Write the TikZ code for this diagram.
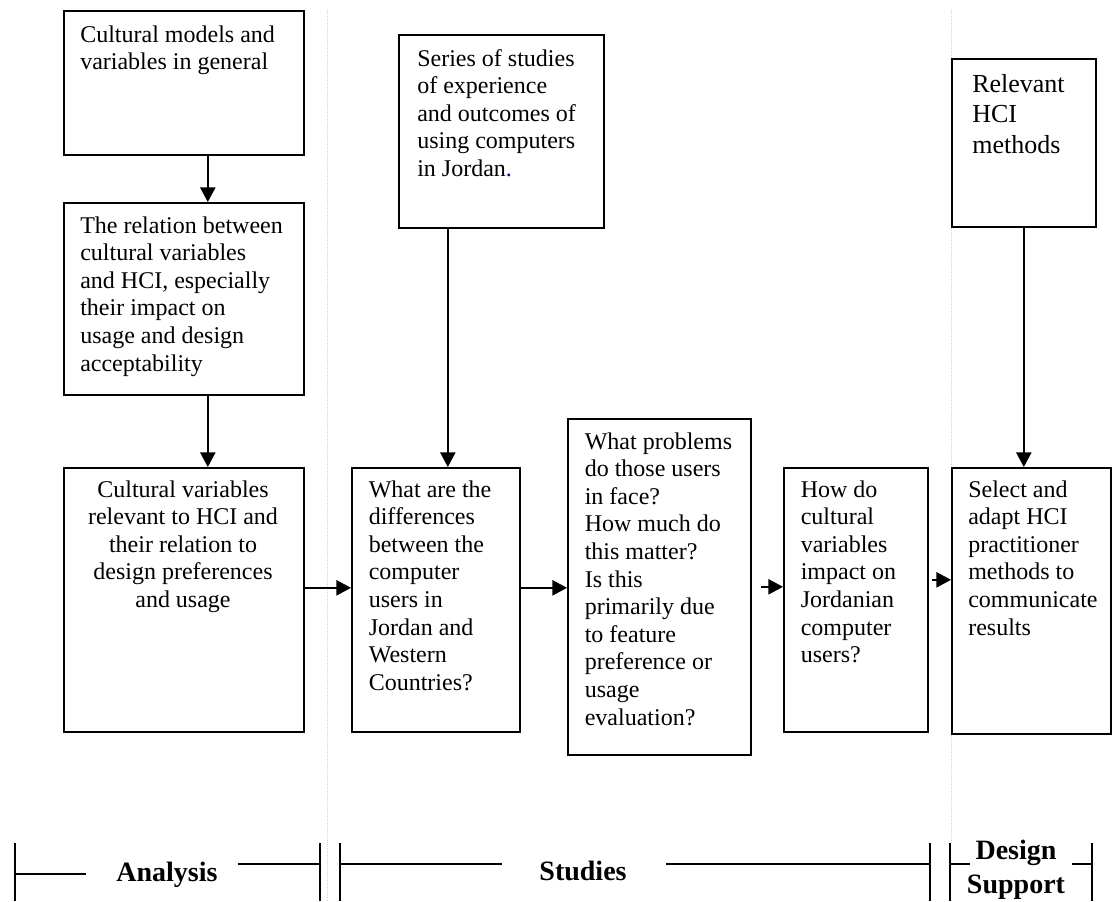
\documentclass[tikz,border=0pt]{standalone}
\usepackage{fontspec}
\setmainfont{Liberation Serif}
\usetikzlibrary{arrows.meta}

% top-aligned block of explicit lines; the baseline is that of the first line
\newcommand{\leftlines}[1]{\parbox[t]{200pt}{\raggedright #1}}
\newcommand{\midlines}[2]{\parbox[t]{#1}{\centering #2}}

\begin{document}
\begin{tikzpicture}[x=0.75pt,y=-0.75pt,
  box/.style={draw, line width=1.2pt, anchor=north west, inner sep=0pt},
  txt/.style={inner sep=0pt, font=\fontsize{18}{20.7}\selectfont},
  bigtxt/.style={inner sep=0pt, font=\fontsize{19.5}{23}\selectfont},
  lbl/.style={inner sep=0pt, font=\bfseries\fontsize{21}{25.5}\selectfont},
  arr/.style={line width=1.1pt, -{Triangle[length=11pt,width=11.5pt]}},
  brk/.style={line width=1.2pt},
  sep/.style={densely dotted, line width=0.6pt, black!18}]

\useasboundingbox (0,0) rectangle (1112,901);

% phase separators
\draw[sep] (327.5,10) -- (327.5,901);
\draw[sep] (951.5,10) -- (951.5,843);

% boxes
\node[box, minimum width=180pt,    minimum height=108pt]    (A) at (63,10)  {};
\node[box, minimum width=180pt,    minimum height=144pt]    (B) at (63,202) {};
\node[box, minimum width=180pt,    minimum height=198pt]    (C) at (63,467) {};
\node[box, minimum width=126pt,    minimum height=198pt]    (D) at (351,467) {};
\node[box, minimum width=153.75pt, minimum height=144.75pt] (E) at (398,34) {};
\node[box, minimum width=137.25pt, minimum height=252pt]    (F) at (567,418) {};
\node[box, minimum width=108pt,    minimum height=198pt]    (G) at (783,467) {};
\node[box, minimum width=119.6pt,  minimum height=199.5pt]  (H) at (951,467) {};
\node[box, minimum width=108pt,    minimum height=126pt]    (I) at (951,58) {};

% box texts
\node[txt, anchor=base west] (tA) at (80,42)
  {\leftlines{Cultural models and\\variables in general}};
\node[txt, anchor=base west] (tB) at (80,233)
  {\leftlines{The relation between\\cultural variables\\and HCI, especially\\their impact on\\usage and design\\acceptability}};
\node[txt, anchor=base] (tC) at (183,497)
  {\midlines{180pt}{Cultural variables\\relevant to HCI and\\their relation to\\design preferences\\and usage}};
\node[txt, anchor=base west] (tD) at (368.5,497)
  {\leftlines{What are the\\differences\\between the\\computer\\users in\\Jordan and\\Western\\Countries?}};
\node[txt, anchor=base west] (tE) at (417,66)
  {\leftlines{Series of studies\\of experience\\and outcomes of\\using computers\\in Jordan\textcolor{blue!75!black}{.}}};
\node[txt, anchor=base west] (tF) at (584.5,449)
  {\leftlines{What problems\\do those users\\in face?\\How much do\\this matter?\\Is this\\primarily due\\to feature\\preference or\\usage\\evaluation?}};
\node[txt, anchor=base west] (tG) at (800.5,497)
  {\leftlines{How do\\cultural\\variables\\impact on\\Jordanian\\computer\\users?}};
\node[txt, anchor=base west] (tH) at (968,497)
  {\leftlines{Select and\\adapt HCI\\practitioner\\methods to\\communicate\\results}};
\node[bigtxt, anchor=base west] (tI) at (972,92)
  {\leftlines{Relevant\\HCI\\methods}};

% connectors
\draw[arr] ([xshift=18pt]A.south) -- ([xshift=18pt]B.north);
\draw[arr] ([xshift=18pt]B.south) -- ([xshift=18pt]C.north);
\draw[arr] ([xshift=-40.1pt]E.south) -- ([xshift=-40.1pt]E.south |- D.north);
\draw[arr] (I.south) -- (I.south |- H.north);
\draw[arr] ([yshift=9pt]C.east) -- ([yshift=9pt]D.west);
\draw[arr] ([yshift=9pt]D.east) -- ([yshift=9pt]D.east -| F.west);
\draw[arr] ([xshift=6.75pt]F.east) -- (F.east -| G.west);
\draw[arr] ([xshift=2.25pt,yshift=15pt]G.east) -- ([yshift=15pt]G.east -| H.west);

% phase labels
\node[lbl, anchor=base] (lAna) at (167,881) {Analysis};
\node[lbl, anchor=base] (lStu) at (583,880) {Studies};
\node[lbl, anchor=base] (lDes) at (1016,859) {\midlines{100pt}{Design\\Support}};

% phase brackets
\draw[brk] (15,843) -- (15,901);
\draw[brk] (15,874) -- (86,874);
\draw[brk] (237.5,864) -- (320,864);
\draw[brk] (320,843) -- (320,901);
\draw[brk] (340,843) -- (340,901);
\draw[brk] (340,864) -- (502,864);
\draw[brk] (666,864) -- (930,864);
\draw[brk] (930,843) -- (930,901);
\draw[brk] (950,843) -- (950,901);
\draw[brk] (950,864) -- (970,864);
\draw[brk] (1072,864) -- (1092,864);
\draw[brk] (1092,843) -- (1092,901);
\end{tikzpicture}
\end{document}
